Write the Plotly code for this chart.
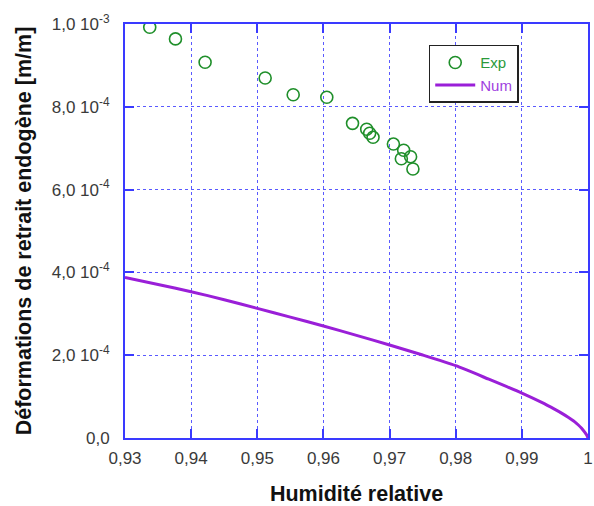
import plotly.graph_objects as go

# Experimental data
exp_h = [0.93374, 0.93763, 0.94211, 0.95119, 0.95543, 0.96051, 0.9644, 0.96654,
         0.96699, 0.9675, 0.97058, 0.97213, 0.97178, 0.97318, 0.97353]
exp_eps = [0.992e-3, 0.964e-3, 0.9075e-3, 0.8696e-3, 0.8292e-3, 0.823e-3, 0.760e-3, 0.7457e-3,
           0.736e-3, 0.7263e-3, 0.710e-3, 0.695e-3, 0.6746e-3, 0.6795e-3, 0.6498e-3]

# Numerical curve
num_h = [0.93, 0.935, 0.94, 0.945, 0.95, 0.955, 0.96, 0.965, 0.97, 0.975, 0.98, 0.985,
         0.99, 0.993, 0.995, 0.996, 0.997, 0.998, 0.9985, 0.999, 0.9995, 0.9998, 1.0]
num_eps = [0.388e-3, 0.371e-3, 0.3534e-3, 0.334e-3, 0.3132e-3, 0.292e-3, 0.2705e-3, 0.248e-3,
           0.2246e-3, 0.2005e-3, 0.1747e-3, 0.1420e-3, 0.1085e-3, 0.086e-3, 0.0690e-3,
           0.060e-3, 0.050e-3, 0.039e-3, 0.032e-3, 0.024e-3, 0.014e-3, 0.007e-3, 0.0]

x_ticks = [0.93, 0.94, 0.95, 0.96, 0.97, 0.98, 0.99, 1.0]
x_labels = ["0,93", "0,94", "0,95", "0,96", "0,97", "0,98", "0,99", "1"]
y_ticks = [0.0, 2e-4, 4e-4, 6e-4, 8e-4, 1e-3]
y_labels = ["0,0", "2,0 10<sup>-4</sup>", "4,0 10<sup>-4</sup>", "6,0 10<sup>-4</sup>",
            "8,0 10<sup>-4</sup>", "1,0 10<sup>-3</sup>"]

GREEN = "#1f8f2a"
PURPLE = "#9a1fd8"
BLUE = "#3a3aff"

fig = go.Figure()
fig.add_trace(go.Scatter(
    x=exp_h, y=exp_eps, mode="markers",
    name="<span style='color:#2a9a3a'>Exp</span>",
    marker=dict(symbol="circle-open", size=12, color=GREEN, line=dict(width=1.6, color=GREEN)),
))
fig.add_trace(go.Scatter(
    x=num_h, y=num_eps, mode="lines",
    name="<span style='color:#a040e0'>Num</span>",
    line=dict(color=PURPLE, width=3, shape="spline", smoothing=0.6),
))

axis_common = dict(
    showline=True, linecolor=BLUE, linewidth=2, mirror="allticks",
    ticks="inside", ticklen=9, tickcolor=BLUE, tickwidth=1.5,
    showgrid=True, gridcolor="#5a5aff", griddash="dot", gridwidth=1,
    zeroline=False, ticklabeloverflow="allow",
    tickfont=dict(family="Liberation Sans, Arial", size=17, color="#3a3a3a"),
)

fig.update_layout(
    width=594, height=506,
    margin=dict(l=125, r=6, t=24, b=68, autoexpand=False),
    paper_bgcolor="white", plot_bgcolor="white",
    font=dict(family="Liberation Sans, Arial", color="#111"),
    xaxis=dict(range=[0.93, 1.0], tickvals=x_ticks, ticktext=x_labels, ticklabelstandoff=4,
               automargin=False,
               title=dict(text="<b>Humidité relative</b>", font=dict(size=21.5, color="#111"), standoff=20),
               **axis_common),
    yaxis=dict(range=[0, 1e-3], tickvals=y_ticks, ticktext=y_labels, ticklabelstandoff=10,
               automargin=False,
               title=dict(text="<b>Déformations de retrait endogène [m/m]</b>", font=dict(size=21.5, color="#111"), standoff=14),
               **axis_common),
    legend=dict(x=0.656, y=0.95, xanchor="left", yanchor="top",
                bgcolor="white", bordercolor="#222", borderwidth=1.5,
                font=dict(family="Liberation Sans, Arial", size=15),
                itemwidth=40, tracegroupgap=0),
    showlegend=True,
)

fig.write_html("out.html", config={"displayModeBar": False},
               post_script="document.body.style.margin='0';document.body.style.overflow='hidden';")
